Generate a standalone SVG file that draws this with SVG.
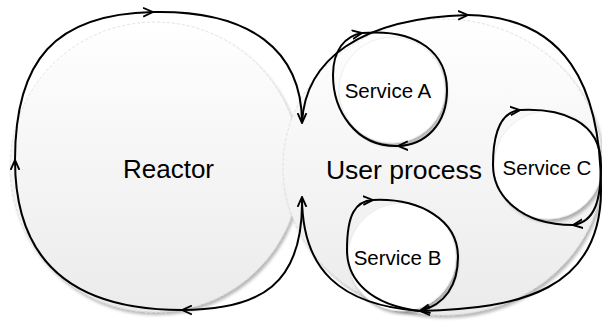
<svg xmlns="http://www.w3.org/2000/svg" width="602" height="323" viewBox="0 0 602 323">
  <style>
    .big { stroke: #d6d6d6; stroke-width: 0.7; stroke-dasharray: 3 2; filter: url(#shadow); }
    .svc { fill: #ffffff; stroke: #e2e2e2; stroke-width: 0.6; filter: url(#shadow); }
    .lbl { font-family: "Liberation Sans", Arial, sans-serif; fill: #000; text-anchor: middle; }
    .loop { fill: none; stroke: #000; stroke-width: 2; marker-end: url(#arr); }
  </style>
  <defs>
    <linearGradient id="grad" x1="0" y1="0" x2="0" y2="1">
      <stop offset="0" stop-color="#ffffff"/>
      <stop offset="1" stop-color="#ebebeb"/>
    </linearGradient>
    <filter id="shadow" x="-10%" y="-10%" width="125%" height="125%">
      <feDropShadow dx="2" dy="3" stdDeviation="1.5" flood-color="#000" flood-opacity="0.28"/>
    </filter>
    <marker id="arr" viewBox="0 0 10 10" refX="9" refY="5" markerWidth="11" markerHeight="11" markerUnits="userSpaceOnUse" orient="auto">
      <path d="M0,1 L9,5 L0,9" fill="none" stroke="#000" stroke-width="1.7" stroke-linejoin="miter"/>
    </marker>
  </defs>

  <g id="reactor">
    <circle class="big" cx="155" cy="167" r="145" fill="url(#grad)"/>
    <text class="lbl" x="168.5" y="178" font-size="26">Reactor</text>
  </g>

  <g id="user-process">
    <ellipse class="big" cx="443" cy="167" rx="160" ry="148" fill="url(#grad)"/>
    <text class="lbl" x="404" y="179" font-size="26.5">User process</text>
  </g>

  <g id="service-a">
    <circle class="svc" cx="392" cy="90" r="53"/>
    <text class="lbl" x="388" y="98" font-size="20.5">Service A</text>
  </g>

  <g id="service-b">
    <circle class="svc" cx="402" cy="257" r="54"/>
    <text class="lbl" x="397.5" y="265" font-size="20.5">Service B</text>
  </g>

  <g id="service-c">
    <circle class="svc" cx="548" cy="165" r="54"/>
    <text class="lbl" x="547" y="175" font-size="20.5">Service C</text>
  </g>

  <g id="connectors">
    <!-- Reactor loop -->
    <path class="loop" d="M302,197 C304,285 260,310 182,310"/>
    <path class="loop" d="M182,310 C60,310 15,250 15,160"/>
    <path class="loop" d="M15,160 C15,60 55,14 153,12"/>
    <path class="loop" d="M153,12 C250,10 302,50 302,123"/>
    <!-- User process loop -->
    <path class="loop" d="M302,123 C305,60 360,18 468,15"/>
    <path class="loop" d="M468,15 C565,17 601,85 601,190 C601,290 520,309 420,311"/>
    <path class="loop" d="M420,311 C340,305 302,270 302,197"/>
    <!-- Service A loop -->
    <path class="loop" d="M362,33 C420,28 447,55 447,90 C447,125 425,145 398,146"/>
    <path class="loop" d="M398,146 C355,147 333,110 333,75 C333,50 345,36 362,33"/>
    <!-- Service C loop -->
    <path class="loop" d="M520,110 C560,108 601,120 601,165 C601,200 595,222 573,225"/>
    <path class="loop" d="M573,225 C520,225 493,195 493,165 C493,135 500,112 520,110"/>
    <!-- Service B loop -->
    <path class="loop" d="M373,200 C420,198 458,220 458,257 C458,285 445,305 420,311"/>
    <path class="loop" d="M420,311 C370,305 347,280 347,250 C347,215 355,201 373,200"/>
  </g>
</svg>
